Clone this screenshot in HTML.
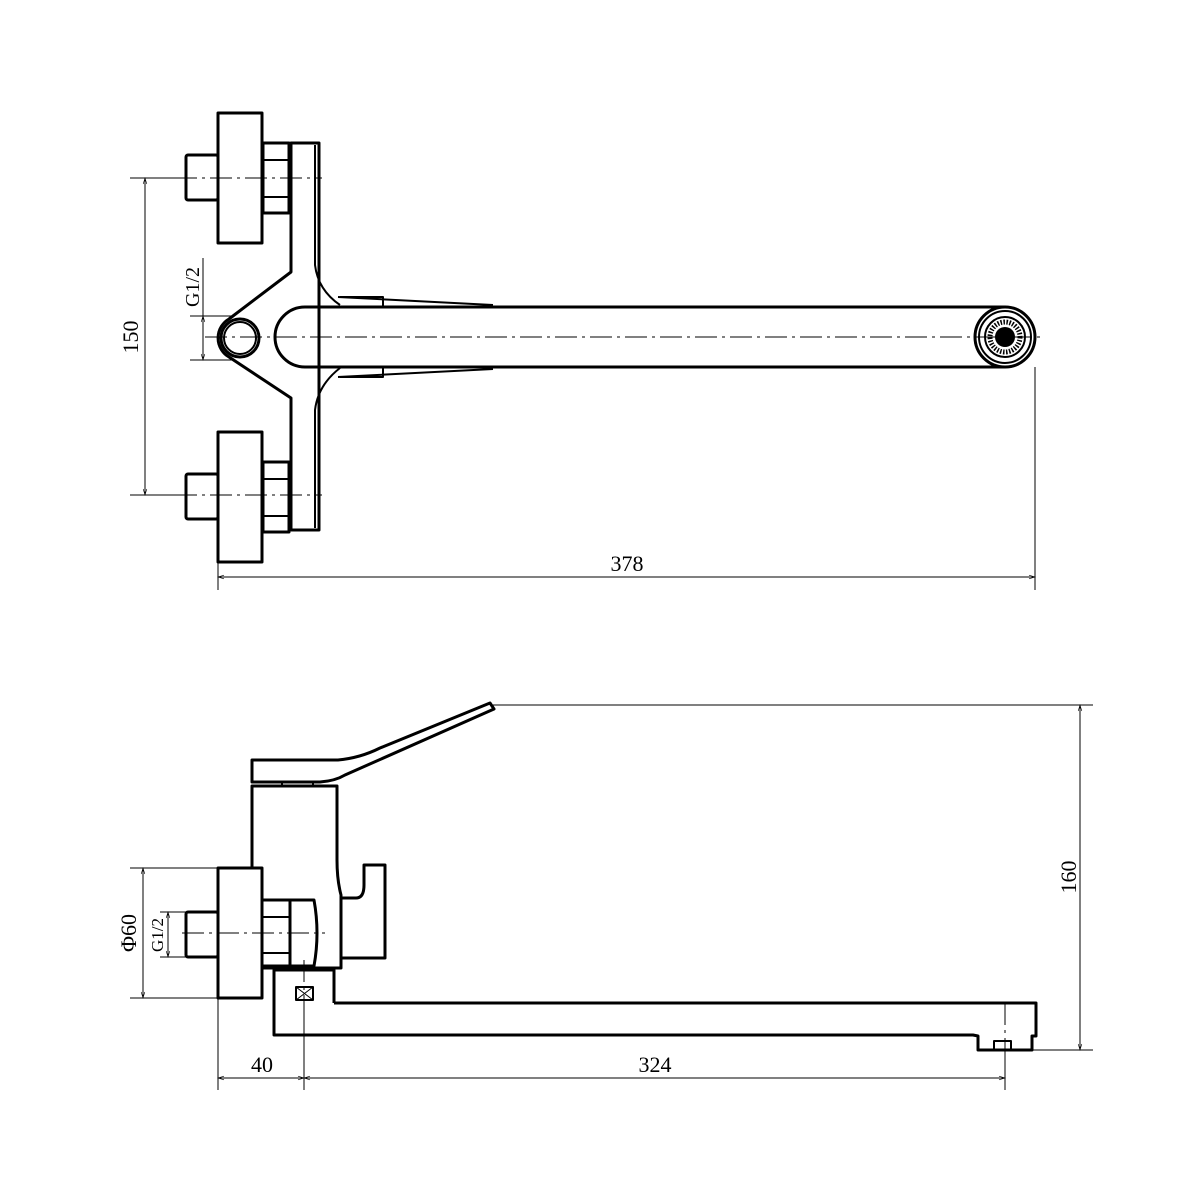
<!DOCTYPE html>
<html><head><meta charset="utf-8"><style>html,body{margin:0;padding:0;background:#fff}svg{display:block}</style></head>
<body>
<svg width="1200" height="1200" viewBox="0 0 1200 1200" xmlns="http://www.w3.org/2000/svg" font-family="Liberation Serif, serif">
<defs>
<marker id="a" viewBox="0 0 10 10" refX="10" refY="5" markerWidth="12" markerHeight="6" orient="auto-start-reverse" markerUnits="userSpaceOnUse"><path d="M0,2 L10,5 L0,8" fill="none" stroke="#000" stroke-width="1"/></marker>
</defs>
<g fill="none" stroke="#000" stroke-width="3" stroke-linejoin="round">
<rect x="218" y="113" width="44" height="130"/>
<rect x="186" y="155" width="32" height="45" rx="2"/>
<rect x="263" y="143" width="26" height="70"/>
<line x1="263" y1="160" x2="289" y2="160" stroke-width="2"/><line x1="263" y1="197" x2="289" y2="197" stroke-width="2"/>
<rect x="218" y="432" width="44" height="130"/>
<rect x="186" y="474" width="32" height="45" rx="2"/>
<rect x="263" y="462" width="26" height="70"/>
<line x1="263" y1="479" x2="289" y2="479" stroke-width="2"/><line x1="263" y1="516" x2="289" y2="516" stroke-width="2"/>
<path d="M291,143 L319,143 L319,530 L291,530 L291,398 L229,357 A22,22 0 0 1 229,319 L291,272 Z"/>
<path d="M315,145 L315,265 Q318,290 340,305 M315,528 L315,410 Q318,385 340,368" stroke-width="2"/>
<circle cx="240" cy="338" r="19"/><circle cx="240" cy="338" r="16" stroke-width="2"/>
<path d="M1005,307 L305,307 A30,30 0 0 0 305,367 L1005,367"/>
<path d="M338,297 L493,305 M338,377 L493,369" stroke-width="2"/>
<path d="M340,297 L383,297 L383,307 M340,377 L383,377 L383,367" stroke-width="2"/>
<circle cx="1005" cy="337" r="30"/><circle cx="1005" cy="337" r="26" stroke-width="2"/><circle cx="1005" cy="337" r="20" stroke-width="2"/>
<circle cx="1005" cy="337" r="15" stroke-width="5" stroke-dasharray="1.5 1.5"/>
<circle cx="1005" cy="337" r="10" fill="#000" stroke="none"/>
<path d="M252,760 L338,760 Q360,758 380,748 L490,703 L494,709 L345,775 Q335,781 320,782 L252,782 Z"/>
<path d="M282,782 L282,786 M313,782 L313,786" stroke-width="2"/>
<path d="M252,868 L252,786 L337,786 L337,860 Q337,880 341,895 L341,968 L262,968"/>
<path d="M341,898 L356,898 Q364,898 364,885 L364,865 L385,865 L385,958 L341,958"/>
<rect x="218" y="868" width="44" height="130"/>
<rect x="186" y="912" width="32" height="45" rx="2"/>
<path d="M262,900 L314,900 Q320,933 314,966 L262,966 Z"/>
<line x1="290" y1="900" x2="290" y2="966"/>
<line x1="263" y1="917" x2="289" y2="917" stroke-width="2"/><line x1="263" y1="953" x2="289" y2="953" stroke-width="2"/>
<path d="M274,1000 L274,970 L334,970 L334,1003"/>
<rect x="296" y="987" width="17" height="13" stroke-width="2"/>
<path d="M296,987 L313,1000 M313,987 L296,1000" stroke-width="1"/>
<path d="M274,1000 L274,1035 L973,1035 L978,1036 L978,1050 L1032,1050 L1032,1036 L1036,1036 L1036,1003 L334,1003"/>
<rect x="994" y="1041" width="17" height="9" stroke-width="2"/>
</g>
<g fill="none" stroke="#000" stroke-width="1">
<g stroke-dasharray="22 5 3 5">
<line x1="175" y1="178" x2="322" y2="178"/>
<line x1="175" y1="495" x2="322" y2="495"/>
<line x1="205" y1="337" x2="1040" y2="337"/>
<line x1="182" y1="933" x2="325" y2="933"/>
<line x1="304" y1="960" x2="304" y2="1000"/>
<line x1="1005" y1="1003" x2="1005" y2="1040"/>
</g>
<line x1="130" y1="178" x2="175" y2="178"/><line x1="130" y1="495" x2="175" y2="495"/>
<line x1="145" y1="178" x2="145" y2="495" marker-start="url(#a)" marker-end="url(#a)"/>
<line x1="190" y1="316" x2="235" y2="316"/><line x1="190" y1="360" x2="235" y2="360"/>
<line x1="203" y1="258" x2="203" y2="316"/>
<line x1="203" y1="316" x2="203" y2="360" marker-start="url(#a)" marker-end="url(#a)"/>
<line x1="218" y1="530" x2="218" y2="590"/><line x1="1035" y1="367" x2="1035" y2="590"/>
<line x1="218" y1="577" x2="1035" y2="577" marker-start="url(#a)" marker-end="url(#a)"/>
<line x1="493" y1="705" x2="1093" y2="705"/><line x1="1032" y1="1050" x2="1093" y2="1050"/>
<line x1="1080" y1="705" x2="1080" y2="1050" marker-start="url(#a)" marker-end="url(#a)"/>
<line x1="130" y1="868" x2="218" y2="868"/><line x1="130" y1="998" x2="218" y2="998"/>
<line x1="143" y1="868" x2="143" y2="998" marker-start="url(#a)" marker-end="url(#a)"/>
<line x1="160" y1="912" x2="186" y2="912"/><line x1="160" y1="957" x2="186" y2="957"/>
<line x1="168" y1="912" x2="168" y2="957" marker-start="url(#a)" marker-end="url(#a)"/>
<line x1="218" y1="998" x2="218" y2="1090"/><line x1="304" y1="1000" x2="304" y2="1090"/><line x1="1005" y1="1040" x2="1005" y2="1090"/>
<line x1="218" y1="1078" x2="304" y2="1078" marker-start="url(#a)" marker-end="url(#a)"/>
<line x1="304" y1="1078" x2="1005" y2="1078" marker-start="url(#a)" marker-end="url(#a)"/>
</g>
<g fill="#000" font-size="22" text-anchor="middle">
<text x="627" y="571">378</text>
<text x="262" y="1072">40</text>
<text x="655" y="1072">324</text>
<text transform="translate(138,337) rotate(-90)">150</text>
<text transform="translate(1076,877) rotate(-90)">160</text>
<text transform="translate(136,933) rotate(-90)">Φ60</text>
<text transform="translate(199,287) rotate(-90)" font-size="20">G1/2</text>
<text transform="translate(163,935) rotate(-90)" font-size="17">G1/2</text>
</g>
</svg>
</body></html>
